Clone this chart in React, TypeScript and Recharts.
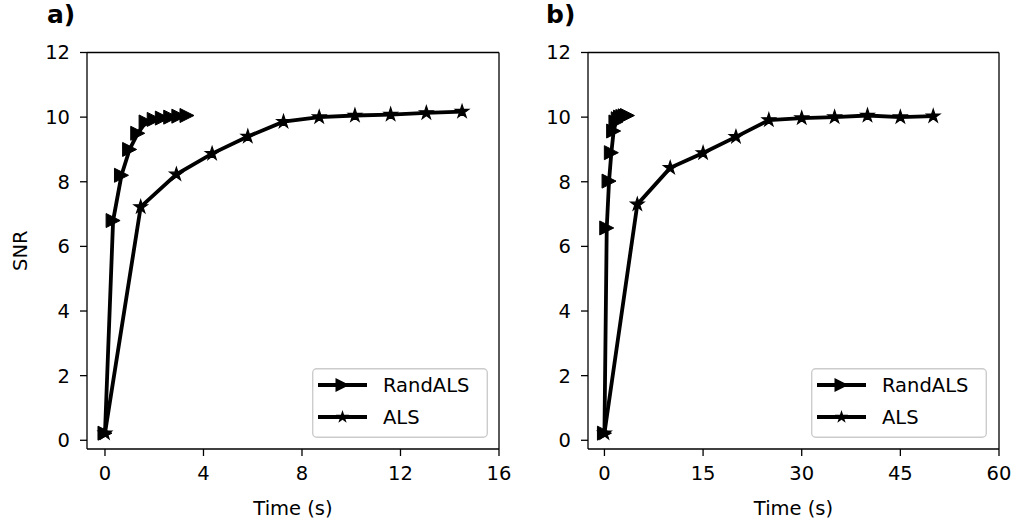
import React from "react"
import { LineChart, Line, XAxis, YAxis, Legend } from "recharts"

// panel a) time in seconds, SNR per iteration
const timeRandA = [0, 0.33, 0.67, 1.0, 1.33, 1.67, 2.0, 2.33, 2.67, 3.0, 3.33]
const snrRandA = [0.22, 6.8, 8.2, 9.0, 9.5, 9.85, 9.93, 9.97, 10.0, 10.03, 10.05]
const timeAlsA = [0, 1.45, 2.9, 4.35, 5.8, 7.25, 8.7, 10.15, 11.6, 13.05, 14.5]
const snrAlsA = [0.22, 7.22, 8.23, 8.87, 9.4, 9.86, 10.0, 10.05, 10.08, 10.13, 10.17]

// panel b)
const timeRandB = [0, 0.35, 0.7, 1.05, 1.4, 1.75, 2.1, 2.45, 2.8, 3.15, 3.5]
const snrRandB = [0.22, 6.57, 8.02, 8.9, 9.57, 9.85, 9.95, 10.0, 10.02, 10.04, 10.05]
const timeAlsB = [0, 5, 10, 15, 20, 25, 30, 35, 40, 45, 50]
const snrAlsB = [0.22, 7.3, 8.43, 8.89, 9.39, 9.91, 9.97, 10.0, 10.05, 10.0, 10.03]

const ticksA = [0, 4, 8, 12, 16]
const ticksB = [0, 15, 30, 45, 60]
const ticksY = [0, 2, 4, 6, 8, 10, 12]

const FONT = "DejaVu Sans"
const FS = 19.5
const LW = 3.8

const toPoints = (xs: number[], ys: number[]) => xs.map((t, i) => ({ t, snr: ys[i] }))

function triPath(cx: number, cy: number, r = 7) {
  return `M${cx + r},${cy} L${cx - r},${cy - r} L${cx - r},${cy + r} Z`
}

function starPath(cx: number, cy: number, r = 7) {
  const inner = r * 0.382
  let d = ""
  for (let i = 0; i < 10; i++) {
    const rad = i % 2 === 0 ? r : inner
    const a = -Math.PI / 2 + (i * Math.PI) / 5
    d += `${i === 0 ? "M" : "L"}${cx + rad * Math.cos(a)},${cy + rad * Math.sin(a)} `
  }
  return d + "Z"
}

const triDot = (p: any) => (
  <path key={`tri-${p.index}`} d={triPath(p.cx, p.cy)} fill="#000" stroke="#000" strokeWidth={1} />
)
const starDot = (p: any) => (
  <path key={`star-${p.index}`} d={starPath(p.cx, p.cy)} fill="#000" stroke="#000" strokeWidth={1.2} />
)

function LegendBox() {
  return (
    <svg width={176} height={70} style={{ display: "block" }}>
      <rect x={0.7} y={0.7} width={174.6} height={68.6} rx={4} fill="#fff" fillOpacity={0.8} stroke="#cccccc" strokeWidth={1.4} />
      <line x1={6} x2={55} y1={17} y2={17} stroke="#000" strokeWidth={LW} />
      <path d={triPath(30.5, 17)} fill="#000" />
      <text x={71} y={24} fontFamily={FONT} fontSize={FS} fill="#000">RandALS</text>
      <line x1={6} x2={55} y1={49} y2={49} stroke="#000" strokeWidth={LW} />
      <path d={starPath(30.5, 49)} fill="#000" />
      <text x={71} y={56} fontFamily={FONT} fontSize={FS} fill="#000">ALS</text>
    </svg>
  )
}

const tickStyle = { fontFamily: FONT, fontSize: FS, fill: "#000" }
const axisLine = { stroke: "#000", strokeWidth: 1.3 }

function Panel(props: {
  rand: { t: number; snr: number }[]
  als: { t: number; snr: number }[]
  xDomain: number[]
  xTicks: number[]
  yAxisWidth: number
  rightMargin: number
  width: number
  legendLeft: number
  showYLabel: boolean
}) {
  return (
    <LineChart
      width={props.width}
      height={522}
      margin={{ top: 51.5, right: props.rightMargin, bottom: 0, left: 0 }}
    >
      <XAxis
        type="number"
        dataKey="t"
        domain={props.xDomain}
        ticks={props.xTicks}
        allowDataOverflow
        height={73}
        tick={tickStyle}
        tickSize={7}
        tickMargin={10}
        axisLine={axisLine}
        tickLine={axisLine}
        label={{ value: "Time (s)", position: "insideBottom", offset: 7, style: tickStyle }}
      />
      <XAxis xAxisId="top" orientation="top" type="number" domain={props.xDomain} allowDataOverflow height={1} tick={false} tickLine={false} axisLine={axisLine} />
      <YAxis
        type="number"
        domain={[-0.27, 12]}
        ticks={ticksY}
        allowDataOverflow
        width={props.yAxisWidth}
        tick={tickStyle}
        tickSize={7}
        tickMargin={10}
        axisLine={axisLine}
        tickLine={axisLine}
        label={
          props.showYLabel
            ? (lp: any) => {
                const vb = lp.viewBox
                const cy = vb.y + vb.height / 2
                return (
                  <text x={20} y={cy} transform={`rotate(-90 20 ${cy})`} textAnchor="middle" dominantBaseline="central" style={tickStyle}>
                    SNR
                  </text>
                )
              }
            : undefined
        }
      />
      <YAxis yAxisId="right" orientation="right" type="number" domain={[-0.27, 12]} allowDataOverflow width={1} tick={false} tickLine={false} axisLine={axisLine} />
      <Line data={props.rand} dataKey="snr" name="RandALS" stroke="#000" strokeWidth={LW} dot={triDot} isAnimationActive={false} />
      <Line data={props.als} dataKey="snr" name="ALS" stroke="#000" strokeWidth={LW} dot={starDot} isAnimationActive={false} />
      <Legend
        verticalAlign="middle"
        align="center"
        content={() => <LegendBox />}
        wrapperStyle={{ left: props.legendLeft, top: 368, width: 176, height: 70 }}
      />
    </LineChart>
  )
}

export default function App() {
  const title = { position: "absolute" as const, top: 0, fontFamily: FONT, fontWeight: "bold" as const, fontSize: 25, lineHeight: "30px" }
  return (
    <div style={{ position: "absolute", left: 0, top: 0, width: 1017, height: 522, background: "#fff", fontFamily: FONT }}>
      <div style={{ position: "absolute", left: 0, top: 0 }}>
        <Panel
          rand={toPoints(timeRandA, snrRandA)}
          als={toPoints(timeAlsA, snrAlsA)}
          xDomain={[-0.73, 16]}
          xTicks={ticksA}
          yAxisWidth={87}
          rightMargin={20}
          width={520}
          legendLeft={312}
          showYLabel
        />
      </div>
      <div style={{ position: "absolute", left: 520, top: 0 }}>
        <Panel
          rand={toPoints(timeRandB, snrRandB)}
          als={toPoints(timeAlsB, snrAlsB)}
          xDomain={[-2.5, 60]}
          xTicks={ticksB}
          yAxisWidth={68}
          rightMargin={17}
          width={497}
          legendLeft={291}
          showYLabel={false}
        />
      </div>
      <div style={{ ...title, left: 47 }}>a)</div>
      <div style={{ ...title, left: 546 }}>b)</div>
    </div>
  )
}
